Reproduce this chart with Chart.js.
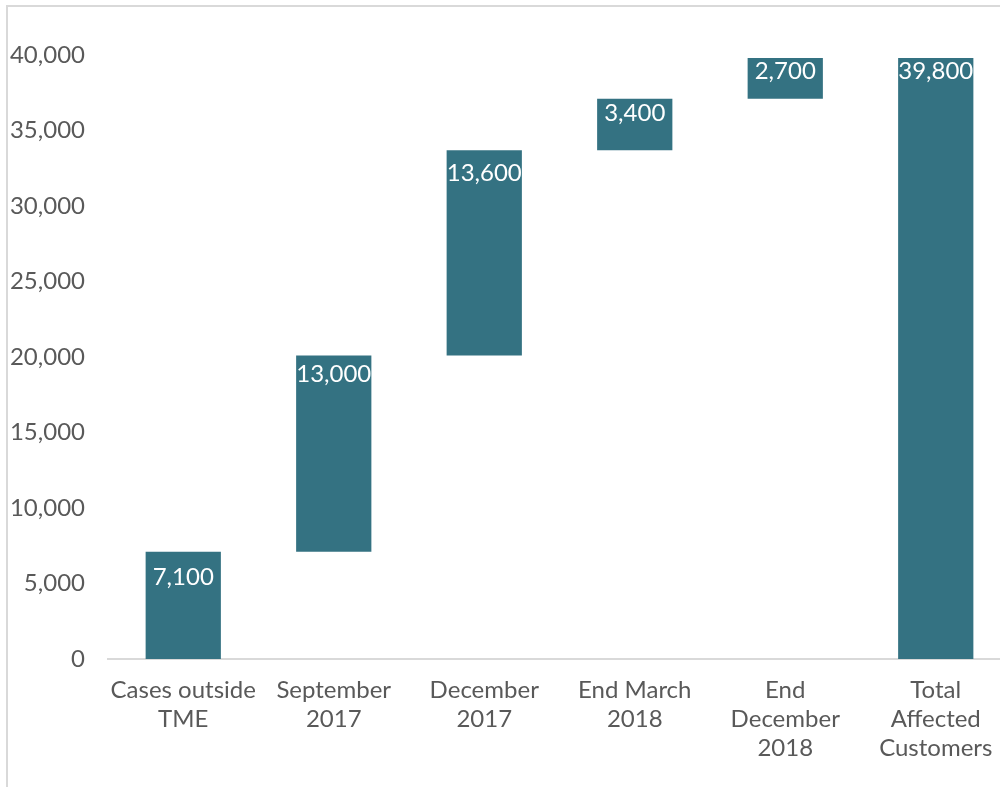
<!DOCTYPE html>
<html><head><meta charset="utf-8">
<script src="https://cdn.jsdelivr.net/npm/chart.js@4.4.1/dist/chart.umd.min.js"></script>
<style>
html,body{margin:0;padding:0;overflow:hidden;background:#fff;width:1000px;height:787px;}
#wrap{position:relative;width:1000px;height:787px;overflow:hidden;}
#frame{position:absolute;left:6px;top:5px;width:1100px;height:900px;border-left:2px solid #d9d9d9;border-top:2px solid #d9d9d9;}
#c{position:absolute;left:0;top:0;}
</style></head><body>
<div id="wrap"><div id="frame"></div><canvas id="c" width="1012" height="787"></canvas></div>
<script>
const categories = [["Cases outside","TME"],["September","2017"],["December","2017"],["End March","2018"],["End","December","2018"],["Total","Affected","Customers"]];
const increments = [7100, 13000, 13600, 3400, 2700];
const totalValue = 39800;
const yTickMin = 0, yTickMax = 40000, yTickStep = 5000;

// style config (label vertical offset below bar top, px)
const labelOffsets = [25, 19, 23, 14, 13, 13];

const floating = [];
let run = 0;
increments.forEach(v => { floating.push([run, run + v]); run += v; });
floating.push([0, totalValue]);
const shownValues = increments.concat([totalValue]);

const barColor = '#347282';
const textColor = '#595959';
const fontFam = 'Lato, "Noto Sans", sans-serif';

const labelPlugin = {
  id: 'barLabels',
  afterDatasetsDraw(chart) {
    const ctx = chart.ctx;
    const meta = chart.getDatasetMeta(0);
    ctx.save();
    ctx.fillStyle = '#ffffff';
    ctx.font = '24px ' + fontFam;
    ctx.textAlign = 'center';
    ctx.textBaseline = 'middle';
    meta.data.forEach((el, i) => {
      const top = Math.min(el.y, el.base);
      ctx.fillText(shownValues[i].toLocaleString('en-US'), el.x, top + labelOffsets[i]);
    });
    ctx.restore();
  }
};

new Chart(document.getElementById('c'), {
  type: 'bar',
  data: {
    labels: categories,
    datasets: [{
      data: floating,
      backgroundColor: barColor,
      borderWidth: 0,
      barPercentage: 0.5,
      categoryPercentage: 1.0
    }]
  },
  options: {
    responsive: false,
    animation: false,
    devicePixelRatio: 1,
    layout: { padding: { top: 55, right: 1, bottom: 0, left: 0 } },
    plugins: { legend: { display: false }, tooltip: { enabled: false } },
    scales: {
      x: {
        grid: { display: false, drawTicks: false },
        border: { display: true, color: '#d9d9d9', width: 2 },
        ticks: {
          color: textColor,
          font: { family: fontFam, size: 24, lineHeight: 1.21 },
          padding: 17,
          maxRotation: 0,
          autoSkip: false
        },
        afterFit(s) { s.height = 128; }
      },
      y: {
        min: yTickMin, max: yTickMax,
        grid: { display: false, drawTicks: false },
        border: { display: false },
        ticks: {
          stepSize: yTickStep,
          color: textColor,
          font: { family: fontFam, size: 24 },
          padding: 23,
          callback: v => v.toLocaleString('en-US')
        },
        afterFit(s) { s.width = 108; }
      }
    }
  },
  plugins: [labelPlugin]
});
</script>
</body></html>
